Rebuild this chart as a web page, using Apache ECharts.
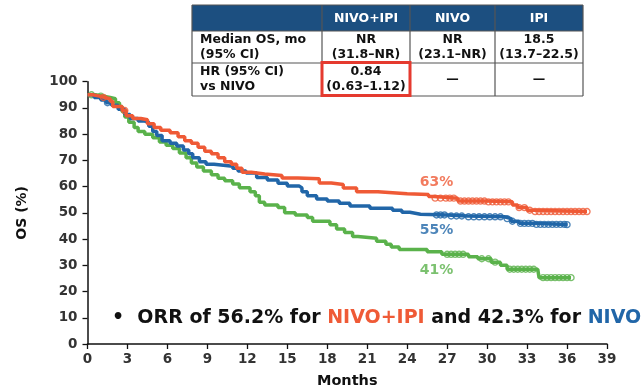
<!DOCTYPE html>
<html>
<head>
<meta charset="utf-8">
<script src="https://cdn.jsdelivr.net/npm/echarts@6/dist/echarts.min.js"></script>
<style>
  html, body { margin: 0; padding: 0; background: #fff; }
  #chart { width: 644px; height: 388px; }
</style>
</head>
<body>
<div id="chart"></div>
<script>
// Kaplan–Meier overall survival, [months, OS %] at each step
const nivoIpiSteps = [[0,95],[0.4,94.5],[0.9,94],[1.3,93.5],[1.7,92.5],[1.9,90.5],[2.6,89],[2.9,87],[3.4,86],[4.0,85.5],[4.5,84],[5.0,82.5],[5.5,81.5],[6.2,80.5],[6.8,79],[7.3,77.5],[7.8,76.5],[8.3,75],[8.8,73.5],[9.3,72.5],[9.8,71],[10.3,69.5],[10.8,68.5],[11.2,67],[11.6,65.5],[12.3,64.8],[13.3,64.2],[14.6,63.3],[15.8,63],[17.4,61.4],[18.3,60.8],[19.2,59.5],[20.2,58],[21.8,57.3],[24,57],[25.6,56.2],[26,55.6],[27.8,54.5],[30,54.2],[31.9,53],[32.3,52],[33,51],[33.5,50.5],[37.5,50.5]];
const nivoSteps = [[0,95],[0.5,94],[1.0,93],[1.4,92],[1.8,91],[2.3,89.5],[2.8,87.5],[3.2,86],[3.8,85],[4.3,84.5],[4.6,83],[4.9,81],[5.2,79.5],[5.6,77.5],[6.2,76.5],[6.7,75.5],[7.2,74],[7.6,72.5],[7.9,71],[8.4,69.5],[8.9,68.5],[9.5,67.8],[10.9,67],[11.3,66],[11.9,65.2],[12.7,63.5],[13.5,62.5],[14.3,61.3],[15,60.2],[15.9,59.5],[16.1,58],[16.5,56.5],[17.2,55.3],[18,54.5],[18.9,53.7],[19.7,52.6],[21.2,51.8],[22.9,51],[23.6,50.2],[24.2,49.5],[25,49.2],[27,48.8],[28.5,48.5],[31.3,47.8],[31.8,46.8],[32.4,46],[33.5,45.6],[36,45.5]];
const ipiSteps = [[0,95],[0.6,94.5],[1.2,94],[1.7,93.5],[2.1,92],[2.4,90.5],[2.6,88.5],[2.8,86.5],[3.1,84.5],[3.5,82.5],[3.8,81],[4.3,80],[4.9,78.6],[5.4,77],[5.9,75.8],[6.4,74.5],[6.9,72.8],[7.4,71],[7.8,69],[8.2,67.5],[8.7,66],[9.3,64.5],[9.8,63.2],[10.3,62.2],[10.9,61],[11.4,59.6],[12.2,58],[12.6,56.5],[12.9,54],[13.3,53],[14.3,52],[14.8,50],[15.6,49.2],[16.5,48.2],[16.9,46.8],[18.2,45.5],[18.7,43.8],[19.3,42.5],[19.9,41],[20.3,40.3],[21.7,39.2],[22.4,38],[22.8,37],[23.4,36],[25.5,35.2],[26.6,34.2],[28.6,33.3],[29.3,32.5],[30.3,31.2],[31,30],[31.5,28.5],[33.8,28.2],[33.9,25.3],[36.3,25.3]];

// Censoring times (months)
const nivoIpiCensored = [1.2, 2.8, 26.1, 26.5, 26.9, 27.2, 27.5, 28.0, 28.3, 28.6, 28.9, 29.2, 29.5, 29.8, 30.1, 30.4, 30.7, 31.0, 31.3, 31.6, 32.4, 32.8, 33.2, 33.6, 33.9, 34.2, 34.5, 34.8, 35.1, 35.4, 35.7, 36.0, 36.3, 36.6, 36.9, 37.2, 37.5];
const nivoCensored = [1.5, 26.2, 26.5, 26.8, 27.3, 27.7, 28.1, 28.6, 29.0, 29.4, 29.8, 30.2, 30.6, 31.0, 31.5, 31.9, 32.5, 32.8, 33.1, 33.4, 33.7, 34.0, 34.3, 34.6, 34.9, 35.2, 35.5, 35.8, 36.0];
const ipiCensored = [0.3, 1.0, 27.0, 27.3, 27.6, 27.9, 28.2, 29.6, 30.1, 30.6, 31.7, 32.0, 32.3, 32.6, 32.9, 33.2, 33.5, 34.2, 34.5, 34.8, 35.1, 35.4, 35.7, 36.0, 36.3];

// Survival at a given time
function survivalAt(steps, t) {
  let v = steps[0][1];
  for (const [m, s] of steps) { if (m <= t) v = s; else break; }
  return v;
}

const xTicks = [0, 3, 6, 9, 12, 15, 18, 21, 24, 27, 30, 33, 36, 39];
const yTicks = [0, 10, 20, 30, 40, 50, 60, 70, 80, 90, 100];

const armNames = ['NIVO+IPI', 'NIVO', 'IPI'];
const armColors = ['#ef5a36', '#2166a8', '#5ab24b'];
const armLabels = ['63%', '55%', '41%'];
const armLabelPos = [[26.2, 61.5], [26.2, 43.5], [26.2, 28]];

// Summary table
const tableHeader = ['', 'NIVO+IPI', 'NIVO', 'IPI'];
const tableRows = [
  [['Median OS, mo', '(95% CI)'], ['NR', '(31.8–NR)'], ['NR', '(23.1–NR)'], ['18.5', '(13.7–22.5)']],
  [['HR (95% CI)', 'vs NIVO'], ['0.84', '(0.63–1.12)'], ['—'], ['—']]
];

const FONT = 'DejaVu Sans';
const chart = echarts.init(document.getElementById('chart'), null, { renderer: 'canvas' });

const stepsAll = [nivoIpiSteps, nivoSteps, ipiSteps];
const censAll = [nivoIpiCensored, nivoCensored, ipiCensored];

const series = [];
stepsAll.forEach((steps, i) => {
  series.push({
    name: armNames[i],
    type: 'line',
    step: 'end',
    data: steps,
    symbol: 'none',
    lineStyle: { color: armColors[i], width: 3.5 },
    z: 3 - i + 2,
    silent: true
  });
  series.push({
    name: armNames[i] + ' censored',
    type: 'scatter',
    data: censAll[i].map(t => [t, survivalAt(steps, t)]),
    symbol: 'circle',
    symbolSize: 6,
    itemStyle: { color: 'rgba(255,255,255,0)', borderColor: armColors[i], borderWidth: 1.4, opacity: 0.8 },
    z: 3 - i + 2,
    silent: true
  });
});
series.push({
  type: 'scatter',
  data: armLabels.map((l, i) => ({ value: armLabelPos[i], label: { formatter: l, color: armColors[i] } })),
  symbolSize: 0,
  label: { show: true, position: 'inside', fontFamily: FONT, fontWeight: 'bold', fontSize: 14 },
  silent: true
});

// Table graphics
const colX = [192, 322, 410, 495, 583];
const rowY = [5, 31, 63, 96];
const g = [];
g.push({ type: 'rect', shape: { x: colX[0], y: rowY[0], width: colX[4] - colX[0], height: rowY[1] - rowY[0] }, style: { fill: '#1c4f80' } });
for (let r = 0; r < rowY.length; r++) {
  g.push({ type: 'line', shape: { x1: colX[0], y1: rowY[r], x2: colX[4], y2: rowY[r] }, style: { stroke: '#555', lineWidth: 1.2 } });
}
for (let c = 0; c < colX.length; c++) {
  g.push({ type: 'line', shape: { x1: colX[c], y1: rowY[0], x2: colX[c], y2: rowY[3] }, style: { stroke: '#555', lineWidth: 1.2 } });
}
tableHeader.forEach((h, c) => {
  if (!h) return;
  g.push({ type: 'text', x: (colX[c] + colX[c + 1]) / 2, y: (rowY[0] + rowY[1]) / 2 + 1,
    style: { text: h, fill: '#fff', font: 'bold 12.5px ' + FONT, align: 'center', verticalAlign: 'middle' } });
});
tableRows.forEach((row, r) => {
  const mid = (rowY[r + 1] + rowY[r + 2]) / 2;
  row.forEach((cell, c) => {
    const cx = c === 0 ? colX[0] + 8 : (colX[c] + colX[c + 1]) / 2;
    const lines = cell.length;
    cell.forEach((txt, k) => {
      const y = lines === 1 ? mid : mid + (k === 0 ? -7.5 : 7.5);
      g.push({ type: 'text', x: cx, y: y,
        style: { text: txt, fill: '#111', font: 'bold 12.5px ' + FONT, align: c === 0 ? 'left' : 'center', verticalAlign: 'middle' } });
    });
  });
});
// highlight box around the hazard ratio
g.push({ type: 'rect', shape: { x: 322, y: 62.5, width: 88, height: 33 }, style: { fill: 'none', stroke: '#e53a2f', lineWidth: 3 } });

// response-rate note
g.push({ type: 'text', x: 112, y: 318, style: {
  rich: {
    k: { fill: '#111', font: 'bold 19px ' + FONT },
    r: { fill: armColors[0], font: 'bold 19px ' + FONT },
    b: { fill: armColors[1], font: 'bold 19px ' + FONT }
  },
  text: '{k|•  ORR of 56.2% for }{r|NIVO+IPI}{k| and 42.3% for }{b|NIVO}',
  verticalAlign: 'middle'
} });

chart.setOption({
  animation: false,
  backgroundColor: '#fff',
  grid: { left: 87.5, right: 37, top: 81.7, bottom: 44, containLabel: false, outerBoundsMode: 'none' },
  xAxis: {
    type: 'value', min: 0, max: 39, interval: 3,
    name: 'Months', nameLocation: 'middle', nameGap: 30,
    nameTextStyle: { fontFamily: FONT, fontWeight: 'bold', fontSize: 14.5, color: '#111' },
    axisLine: { lineStyle: { color: '#111', width: 1.5 } },
    axisTick: { show: true, length: 5, lineStyle: { color: '#111', width: 1.3 } },
    axisLabel: { fontFamily: FONT, fontWeight: 'bold', fontSize: 13.5, color: '#333', margin: 8,
      formatter: v => xTicks.includes(v) ? String(v) : '' },
    splitLine: { show: false }
  },
  yAxis: {
    type: 'value', min: 0, max: 100, interval: 10,
    name: 'OS (%)', nameLocation: 'middle', nameGap: 58, nameRotate: 90,
    nameTextStyle: { fontFamily: FONT, fontWeight: 'bold', fontSize: 14, color: '#111' },
    axisLine: { show: true, lineStyle: { color: '#111', width: 1.5 } },
    axisTick: { show: true, length: 5, lineStyle: { color: '#111', width: 1.3 } },
    axisLabel: { fontFamily: FONT, fontWeight: 'bold', fontSize: 13.5, color: '#333', margin: 10,
      formatter: v => yTicks.includes(v) ? String(v) : '' },
    splitLine: { show: false }
  },
  series: series,
  graphic: g
});
</script>
</body>
</html>
